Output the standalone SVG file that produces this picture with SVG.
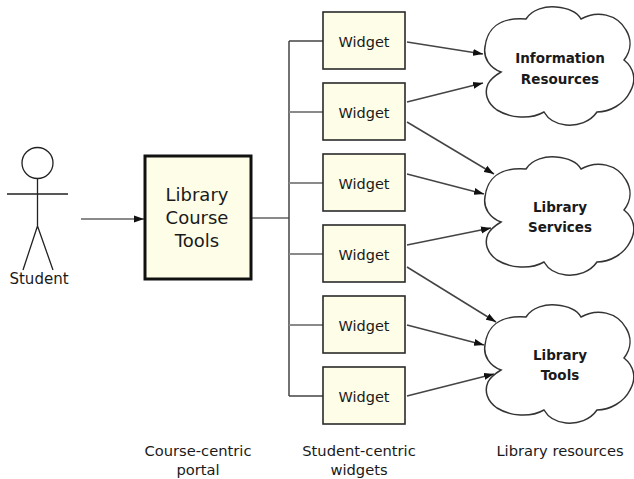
<svg xmlns="http://www.w3.org/2000/svg" width="634" height="479" viewBox="0 0 634 479">
<style>
text{font-family:"DejaVu Sans","Liberation Sans",sans-serif;text-anchor:middle;fill:#1a1a1a}
.w{fill:#fefee8;stroke:#2a2a2a;stroke-width:1.6}
.wt{font-size:14.5px}
.b{font-weight:bold;font-size:13.5px}
.cap{font-size:14.7px}
.c{fill:#fff;stroke:#333;stroke-width:1.5}
.l{fill:none;stroke:#444;stroke-width:1.5}
.g{fill:none;stroke:#8a8a8a;stroke-width:2}
</style>
<defs>
<marker id="a" markerUnits="userSpaceOnUse" markerWidth="11" markerHeight="8" refX="10" refY="4" orient="auto"><path d="M0 0.5L10 4L0 7.5Z" fill="#111"/></marker>
<path id="cl" d="M501 72C490 68 483 58 485 47C487 29 499 17 526 19C532 9 546 6 556 7C568 8 577 12 581 19C597 10 617 14 626 30C632 40 631 51 624 60C634 68 637 80 630 92C624 104 610 112 597 112C590 122 578 126 566 125C556 124 548 119 544 112C530 120 510 118 497 110C487 103 484 93 488 84C491 78 496 75 501 72Z"/>
</defs>
<g id="connectors">
<path class="g" d="M81 219H144" marker-end="url(#a)"/>
<path class="g" d="M252 218H289"/>
<path class="l" d="M289 41V396M289 41H323M289 396H323"/>
<path class="g" d="M289 112H323M289 183H323M289 254H323M289 325H323"/>
<path class="l" d="M407 42L483 54" marker-end="url(#a)"/>
<path class="l" d="M407 102L483 83" marker-end="url(#a)"/>
<path class="l" d="M407 122L494 174" marker-end="url(#a)"/>
<path class="l" d="M407 174L484 194" marker-end="url(#a)"/>
<path class="l" d="M407 245L491 228" marker-end="url(#a)"/>
<path class="l" d="M407 267L496 322" marker-end="url(#a)"/>
<path class="l" d="M407 325L484 345" marker-end="url(#a)"/>
<path class="l" d="M407 396L494 374" marker-end="url(#a)"/>
</g>
<g id="student">
<circle cx="37.5" cy="163" r="15.5" fill="#fff" stroke="#222" stroke-width="1.3"/>
<path d="M37.5 179V226M7 194H68M37.5 226L23 270M37.5 226L53 270" fill="none" stroke="#222" stroke-width="1.3"/>
<text x="39" y="284" font-size="15">Student</text>
</g>
<g id="portal">
<rect x="145" y="156" width="106" height="123" fill="#fefee8" stroke="#111" stroke-width="3"/>
<text x="197" y="201" font-size="18">Library</text>
<text x="197" y="224" font-size="18">Course</text>
<text x="197" y="247" font-size="18">Tools</text>
</g>
<g id="w1"><rect class="w" x="323" y="12" width="82" height="57"/><text class="wt" x="364" y="47">Widget</text></g>
<g id="w2"><rect class="w" x="323" y="83" width="82" height="57"/><text class="wt" x="364" y="118">Widget</text></g>
<g id="w3"><rect class="w" x="323" y="154" width="82" height="57"/><text class="wt" x="364" y="189">Widget</text></g>
<g id="w4"><rect class="w" x="323" y="225" width="82" height="57"/><text class="wt" x="364" y="260">Widget</text></g>
<g id="w5"><rect class="w" x="323" y="296" width="82" height="57"/><text class="wt" x="364" y="331">Widget</text></g>
<g id="w6"><rect class="w" x="323" y="367" width="82" height="57"/><text class="wt" x="364" y="402">Widget</text></g>
<g id="c1"><use href="#cl" class="c"/><text class="b" x="560" y="63">Information</text><text class="b" x="560" y="84">Resources</text></g>
<g id="c2"><use href="#cl" class="c" y="150"/><text class="b" x="560" y="212">Library</text><text class="b" x="560" y="232">Services</text></g>
<g id="c3"><use href="#cl" class="c" y="298"/><text class="b" x="560" y="360">Library</text><text class="b" x="560" y="380">Tools</text></g>
<g id="captions">
<text class="cap" x="198" y="456">Course-centric</text><text class="cap" x="198" y="475">portal</text>
<text class="cap" x="359" y="456">Student-centric</text><text class="cap" x="359" y="475">widgets</text>
<text class="cap" x="560" y="456">Library resources</text>
</g>
</svg>
